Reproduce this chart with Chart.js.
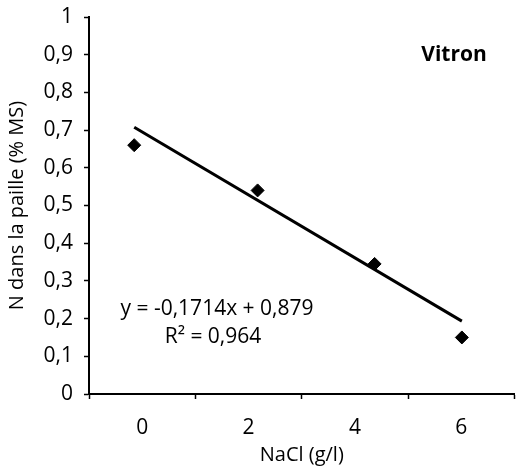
<!DOCTYPE html>
<html>
<head>
<meta charset="utf-8">
<script src="https://cdn.jsdelivr.net/npm/chart.js@4.4.1/dist/chart.umd.min.js"></script>
<style>
  html, body { margin: 0; padding: 0; background: #fff; }
  #wrap { width: 522px; height: 476px; }
</style>
</head>
<body>
<div id="wrap"><canvas id="graphe"></canvas></div>
<script>
// teneur en N de la paille selon la salinité
var nacl = [-0.15, 2.17, 4.37, 6.01];
var azote = [0.66, 0.54, 0.345, 0.15];

// droite de tendance (x = rang du point)
var pente = -0.1714;
var origine = 0.879;
var equation = 'y = -0,1714x + 0,879';
var r2 = 'R\u00b2 = 0,964';
var variete = 'Vitron';

var police = '"Open Sans", sans-serif';

var points = nacl.map(function (x, i) { return { x: x, y: azote[i] }; });
var tendance = [
  { x: nacl[0], y: pente * 1 + origine },
  { x: nacl[nacl.length - 1], y: pente * nacl.length + origine }
];

var textes = {
  id: 'textes',
  afterDraw: function (chart) {
    var ctx = chart.ctx;
    ctx.save();
    ctx.fillStyle = '#000';
    ctx.textBaseline = 'middle';
    ctx.textAlign = 'center';
    ctx.font = 'bold 21px ' + police;
    ctx.fillText(variete, 454, 55);
    ctx.font = '21px ' + police;
    ctx.fillText(equation, 217, 309);
    ctx.fillText(r2, 213, 337);
    ctx.restore();
  }
};

new Chart(document.getElementById('graphe'), {
  type: 'scatter',
  data: {
    datasets: [
      {
        data: points,
        pointStyle: 'rectRot',
        pointRadius: 6.5,
        pointBackgroundColor: '#000',
        pointBorderColor: '#000',
        pointBorderWidth: 1
      },
      {
        data: tendance,
        showLine: true,
        borderColor: '#000',
        borderWidth: 3,
        pointRadius: 0
      }
    ]
  },
  options: {
    responsive: true,
    maintainAspectRatio: false,
    animation: false,
    layout: { padding: { top: 17, right: 4, left: 0, bottom: 0 } },
    plugins: { legend: { display: false }, tooltip: { enabled: false } },
    scales: {
      x: {
        type: 'linear',
        min: -1,
        max: 7,
        afterFit: function (s) {
          s.height = 82;
          s.paddingLeft = 0;
          s.paddingRight = 0;
        },
        border: { color: '#000', width: 2 },
        grid: {
          drawOnChartArea: false,
          tickLength: 5,
          tickWidth: 1.5,
          tickColor: function (c) { return Math.abs(c.tick.value) % 2 === 1 ? '#000' : 'rgba(0,0,0,0)'; }
        },
        ticks: {
          stepSize: 1,
          padding: 16,
          color: '#000',
          font: { family: police, size: 21 },
          callback: function (v) { return v % 2 === 0 ? String(v) : ''; }
        },
        title: {
          display: true,
          text: 'NaCl (g/l)',
          color: '#000',
          font: { family: police, size: 20 },
          padding: { top: 0, bottom: 9 }
        }
      },
      y: {
        min: 0,
        max: 1,
        afterFit: function (s) {
          s.width = 89;
          s.paddingTop = 0;
          s.paddingBottom = 0;
        },
        border: { color: '#000', width: 2 },
        grid: {
          drawOnChartArea: false,
          tickLength: 5,
          tickWidth: 1.5,
          tickColor: '#000'
        },
        ticks: {
          stepSize: 0.1,
          padding: 11,
          color: '#000',
          font: { family: police, size: 21 },
          callback: function (v) {
            if (Math.abs(v) < 1e-9) return '0';
            if (Math.abs(v - 1) < 1e-9) return '1';
            return v.toFixed(1).replace('.', ',');
          }
        },
        title: {
          display: true,
          text: 'N dans la paille (% MS)',
          color: '#000',
          font: { family: police, size: 20 },
          padding: { top: 5, bottom: 0 }
        }
      }
    }
  },
  plugins: [textes]
});
</script>
</body>
</html>
